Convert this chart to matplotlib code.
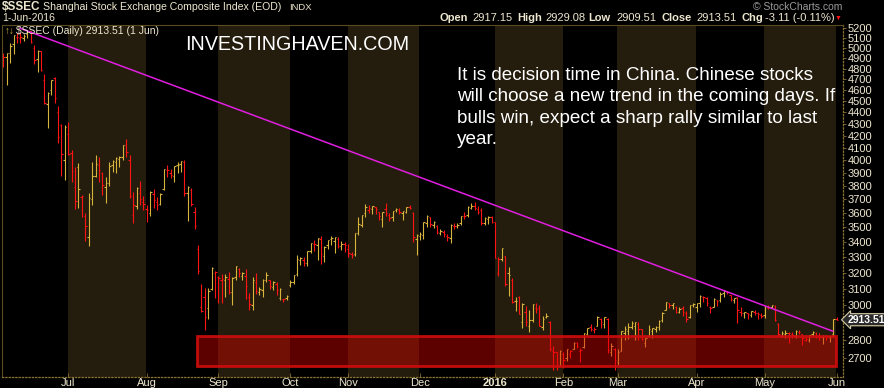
import matplotlib
matplotlib.use('Agg')
import matplotlib.pyplot as plt
import numpy as np
from matplotlib.patches import Rectangle

plt.rcParams['font.family'] = ['Liberation Sans', 'DejaVu Sans']

# trading bars per month: Jun 2015 (from 3 Jun) ... Jun 2016 (1 Jun only)
month_counts = [19, 23, 21, 21, 17, 21, 22, 20, 16, 23, 20, 21, 1]
month_labels = ['', 'Jul', 'Aug', 'Sep', 'Oct', 'Nov', 'Dec', '2016', 'Feb', 'Mar', 'Apr', 'May', 'Jun']

opens = [
    4924, 4912, 4952, 5045, 5114, 5103, 5101, 5143, 5174, 5004, 4890, 4969, 4689, 4471, 4604, 4712, 4399, 4289, 4006,
    4214, 4058, 3793, 3950, 3720, 3580, 3432, 3707, 3880, 3960, 3900, 3790, 3827, 3960, 3990, 4010, 4030, 4120, 4000, 3585, 3650, 3750, 3680,
    3630, 3600, 3740, 3680, 3670, 3780, 3920, 3900, 3880, 3960, 3970, 3990, 3750, 3770, 3610, 3350, 2990, 3050, 2980, 3100, 3200,
    3170, 3150, 3150, 3160, 3080, 3170, 3220, 3180, 3180, 3050, 3000, 3140, 3080, 3090, 3150, 3150, 3110, 3130, 3040, 3039, 3040,
    3120, 3140, 3190, 3280, 3280, 3260, 3340, 3390, 3380, 3420, 3310, 3380, 3420, 3410, 3420, 3370, 3390,
    3350, 3320, 3320, 3460, 3520, 3600, 3620, 3630, 3645, 3610, 3560, 3630, 3590, 3570, 3620, 3625, 3600, 3610, 3645, 3600, 3420,
    3440, 3450, 3530, 3570, 3520, 3510, 3460, 3470, 3440, 3430, 3510, 3510, 3530, 3580, 3590, 3640, 3650, 3630, 3620, 3530, 3560, 3570,
    3536, 3196, 3290, 3309, 3194, 3154, 3023, 3050, 2900, 2960, 2880, 2910, 2980, 2980, 2870, 2930, 2900, 2740, 2730, 2660,
    2720, 2700, 2720, 2750, 2780, 2740, 2760, 2830, 2870, 2855, 2880, 2920, 2890, 2920, 2730, 2750,
    2680, 2740, 2840, 2850, 2870, 2880, 2890, 2860, 2780, 2820, 2850, 2860, 2870, 2910, 2970, 3010, 3000, 2990, 2960, 2980, 2950, 2930, 3000,
    2990, 3010, 3050, 3040, 2990, 2990, 3030, 3030, 3070, 3080, 3060, 3030, 3050, 2960, 2950, 2950, 2940, 2960, 2950, 2940,
    2940, 2985, 2990, 2995, 2890, 2820, 2830, 2840, 2830, 2820, 2845, 2830, 2800, 2800, 2830, 2840, 2820, 2815, 2820, 2815, 2830,
    2917.15,
]
highs = [
    4951, 4947, 5051, 5131, 5147, 5164, 5139, 5178, 5176, 5029, 4985, 4970, 4744, 4577, 4691, 4720, 4456, 4297, 4287,
    4318, 4080, 3944, 3975, 3730, 3600, 3748, 3990, 4043, 4029, 3910, 3872, 3989, 4003, 4029, 4034, 4124, 4170, 4043, 3758, 3790, 3840, 3723,
    3658, 3760, 3778, 3721, 3746, 3930, 3961, 3935, 3955, 3989, 3994, 4003, 3801, 3783, 3645, 3383, 3126, 3101, 3101, 3233, 3208,
    3175, 3190, 3190, 3205, 3170, 3243, 3232, 3205, 3220, 3073, 3173, 3194, 3110, 3158, 3205, 3156, 3144, 3142, 3102, 3039, 3060,
    3150, 3185, 3313, 3298, 3298, 3338, 3391, 3413, 3425, 3441, 3370, 3413, 3441, 3437, 3437, 3409, 3402,
    3384, 3335, 3460, 3575, 3590, 3667, 3660, 3652, 3647, 3611, 3606, 3677, 3604, 3617, 3640, 3635, 3618, 3647, 3660, 3611, 3458,
    3470, 3540, 3588, 3575, 3545, 3520, 3490, 3485, 3455, 3525, 3529, 3530, 3580, 3610, 3651, 3672, 3684, 3650, 3640, 3570, 3580, 3580,
    3538, 3303, 3362, 3309, 3235, 3166, 3046, 3055, 3011, 2996, 2968, 3008, 3011, 3001, 2933, 2952, 2904, 2763, 2735, 2745,
    2730, 2749, 2745, 2786, 2786, 2755, 2837, 2868, 2890, 2869, 2933, 2923, 2929, 2923, 2782, 2755,
    2749, 2849, 2875, 2894, 2904, 2901, 2901, 2862, 2812, 2883, 2868, 2876, 2912, 2960, 3020, 3012, 3012, 2993, 2986, 2997, 2962, 3002, 3014,
    3014, 3058, 3055, 3051, 2994, 3040, 3030, 3080, 3090, 3085, 3060, 3045, 3050, 2990, 2960, 2955, 2966, 2970, 2958, 2955,
    2992, 3000, 3000, 3000, 2895, 2850, 2855, 2842, 2846, 2854, 2857, 2830, 2825, 2827, 2850, 2843, 2835, 2826, 2826, 2822, 2920,
    2929.08,
]
lows = [
    4812, 4647, 4856, 4942, 5049, 5049, 5066, 5103, 5048, 4842, 4767, 4780, 4476, 4264, 4552, 4483, 4140, 3876, 3847,
    4044, 3828, 3629, 3640, 3570, 3410, 3373, 3660, 3866, 3833, 3733, 3677, 3801, 3910, 3903, 3950, 4003, 4029, 3709, 3529, 3633, 3658, 3625,
    3540, 3583, 3640, 3620, 3660, 3767, 3872, 3860, 3828, 3898, 3910, 3729, 3545, 3650, 3490, 3188, 2957, 2852, 2918, 3091, 3044,
    3010, 3010, 3050, 3065, 2998, 3152, 3169, 3152, 3039, 2969, 2969, 3069, 3059, 3049, 3142, 3094, 3090, 3059, 3029, 3015, 3030,
    3110, 3131, 3177, 3250, 3243, 3243, 3324, 3342, 3280, 3254, 3270, 3355, 3380, 3324, 3358, 3346, 3335,
    3300, 3291, 3310, 3447, 3500, 3575, 3599, 3594, 3594, 3551, 3504, 3580, 3546, 3546, 3611, 3594, 3551, 3599, 3628, 3402, 3313,
    3413, 3418, 3504, 3501, 3495, 3455, 3450, 3437, 3410, 3392, 3490, 3495, 3520, 3560, 3570, 3630, 3625, 3595, 3520, 3517, 3525, 3530,
    3295, 3180, 3277, 3115, 3056, 3011, 2967, 2949, 2867, 2875, 2844, 2898, 2955, 2880, 2856, 2923, 2736, 2639, 2639, 2656,
    2648, 2683, 2700, 2749, 2755, 2680, 2755, 2828, 2847, 2837, 2875, 2865, 2865, 2727, 2709, 2639,
    2665, 2736, 2800, 2804, 2859, 2798, 2798, 2798, 2761, 2816, 2808, 2845, 2854, 2902, 2970, 2985, 2977, 2950, 2950, 2936, 2902, 2926, 2990,
    2960, 2990, 3020, 2995, 2950, 2990, 2994, 3020, 3050, 3065, 3025, 3012, 2896, 2935, 2925, 2918, 2930, 2942, 2920, 2925,
    2926, 2975, 2980, 2905, 2820, 2815, 2812, 2780, 2810, 2812, 2830, 2770, 2795, 2785, 2820, 2810, 2800, 2775, 2800, 2785, 2815,
    2909.51,
]
closes = [
    4910, 4947, 5023, 5131, 5113, 5106, 5121, 5166, 5062, 4887, 4967, 4785, 4478, 4576, 4691, 4527, 4193, 4053, 4277,
    4053, 3912, 3687, 3776, 3727, 3507, 3710, 3878, 3970, 3924, 3805, 3823, 3958, 3992, 4017, 4026, 4124, 4070, 3726, 3663, 3789, 3705, 3664,
    3622, 3757, 3695, 3661, 3744, 3929, 3927, 3887, 3955, 3965, 3993, 3749, 3794, 3664, 3508, 3210, 2965, 2927, 3084, 3232, 3206,
    3166, 3160, 3170, 3080, 3168, 3243, 3197, 3200, 3114, 3005, 3152, 3086, 3097, 3156, 3185, 3115, 3142, 3092, 3100, 3038, 3053,
    3143, 3183, 3287, 3293, 3262, 3338, 3391, 3386, 3425, 3320, 3369, 3412, 3429, 3434, 3375, 3387, 3382,
    3325, 3316, 3459, 3522, 3590, 3646, 3640, 3650, 3632, 3580, 3606, 3604, 3568, 3617, 3630, 3610, 3616, 3647, 3635, 3436, 3445,
    3456, 3537, 3584, 3525, 3536, 3470, 3472, 3455, 3434, 3520, 3510, 3516, 3580, 3578, 3642, 3651, 3636, 3612, 3533, 3563, 3573, 3539,
    3296, 3287, 3361, 3125, 3186, 3016, 3022, 2949, 3007, 2900, 2913, 3008, 2976, 2880, 2916, 2938, 2749, 2735, 2655, 2737,
    2688, 2749, 2739, 2781, 2763, 2746, 2836, 2867, 2862, 2860, 2927, 2903, 2928, 2741, 2767, 2688,
    2733, 2849, 2859, 2874, 2897, 2901, 2863, 2804, 2810, 2859, 2864, 2870, 2904, 2955, 3018, 2999, 3009, 2960, 2979, 2957, 2919, 3000, 3004,
    3009, 3053, 3050, 3009, 2985, 3034, 3023, 3066, 3082, 3078, 3034, 3043, 2973, 2953, 2959, 2946, 2964, 2954, 2945, 2938,
    2992, 2991, 2998, 2914, 2833, 2836, 2837, 2835, 2827, 2850, 2843, 2807, 2806, 2826, 2843, 2821, 2815, 2822, 2821, 2822.5, 2917,
    2913.51,
]

y_ticks = list(range(2700, 5300, 100))

# support zone and trendline (bar index, price)
zone_bars = (56.7, 243.8)
zone_prices = (2657, 2823)
trend_bars = [4.9, 242.9]
trend_prices = [5200, 2848]

note = ("It is decision time in China. Chinese stocks\n"
        "will choose a new trend in the coming days. If\n"
        "bulls win, expect a sharp rally similar to last\n"
        "year.")

GOLD = '#d6b43e'
RED = '#ff1414'
CREAM = '#eee7cf'
AXCOL = '#8a7232'
BAND = '#241c0c'

W, H = 884, 388
fig = plt.figure(figsize=(W / 100, H / 100), dpi=100, facecolor='black')
ax = fig.add_axes([2 / W, 11 / H, 841 / W, 352 / H], facecolor='black')


def px(x, y):
    return x / W, 1 - y / H


x = np.arange(len(closes))
o = np.array(opens, dtype=float)
hi = np.array(highs, dtype=float)
lo = np.array(lows, dtype=float)
c = np.array(closes, dtype=float)
prev = np.concatenate([[o[0]], c[:-1]])
cols = [GOLD if cc >= pp else RED for cc, pp in zip(c, prev)]

starts = np.concatenate([[0], np.cumsum(month_counts)[:-1]])
ends = np.concatenate([starts[1:], [len(closes)]])
for k in range(1, len(month_counts), 2):
    ax.axvspan(starts[k] - 0.15, ends[k] - 0.15, color=BAND, lw=0, zorder=0)

ax.vlines(x, lo, hi, colors=cols, lw=0.8, zorder=2)
ax.hlines(o, x - 0.42, x, colors=cols, lw=0.8, zorder=2)
ax.hlines(c, x, x + 0.42, colors=cols, lw=0.8, zorder=2)

ax.add_patch(Rectangle((zone_bars[0], zone_prices[0]), zone_bars[1] - zone_bars[0],
                       zone_prices[1] - zone_prices[0],
                       facecolor=(0.88, 0.0, 0.0, 0.42), edgecolor=(0.82, 0.05, 0.05, 0.9),
                       lw=2.0, zorder=3))
ax.plot(trend_bars, trend_prices, color='#e01ee0', lw=1.1, zorder=4)

# the last-price tag covers the nearest price label
tick_labels = ['' if abs(v - closes[-1]) < 60 else str(v) for v in y_ticks]

ax.set_yscale('log')
ax.set_xlim(-0.4, 245.9)
ax.set_ylim(2600, 5234)
ax.yaxis.tick_right()
ax.set_yticks(y_ticks, labels=tick_labels)
ax.set_yticks([], minor=True)
ax.set_xticks(starts[1:], labels=month_labels[1:])
for lbl in ax.get_xticklabels():
    if lbl.get_text() == '2016':
        lbl.set_fontweight('bold')
ax.tick_params(axis='y', colors=AXCOL, labelcolor=CREAM, labelsize=8, length=2,
               width=0.6, pad=1.5)
ax.tick_params(axis='x', colors=AXCOL, labelcolor=CREAM, labelsize=8, length=3,
               width=0.6, pad=0.5, direction='in')
for side in ['left', 'top']:
    ax.spines[side].set_color('#5b4a22')
    ax.spines[side].set_linewidth(0.8)
for side in ['right', 'bottom']:
    ax.spines[side].set_color(AXCOL)
    ax.spines[side].set_linestyle(':')
    ax.spines[side].set_linewidth(0.9)

ax.annotate(f'{closes[-1]:.2f}', xy=(1.0, closes[-1]), xycoords=('axes fraction', 'data'),
            xytext=(3.5, 0), textcoords='offset points', ha='left', va='center',
            fontsize=7.5, fontweight='bold', color='white', annotation_clip=False,
            bbox=dict(boxstyle='larrow,pad=0.1', fc='#2b2b2b', ec='#d8cfa8', lw=0.8))

# header
fig.text(*px(2, 7), '$SSEC', color=CREAM, fontsize=8.5, fontweight='bold', va='center')
fig.text(*px(43, 7), 'Shanghai Stock Exchange Composite Index (EOD)', color=CREAM,
         fontsize=7.6, va='center')
fig.text(*px(289, 7), 'INDX', color=CREAM, fontsize=6.8, va='center')
fig.text(*px(2, 18), '1-Jun-2016', color=CREAM, fontsize=7.5, va='center')
fig.text(*px(842, 6.5), '\u00a9 StockCharts.com', color='#9a9a9a', fontsize=7.5,
         va='center', ha='right')

ohlc_items = [(440, 'Open', True), (472, '2917.15', False), (517, 'High', True),
              (545, '2929.08', False), (588, 'Low', True), (616, '2909.51', False),
              (661, 'Close', True), (696, '2913.51', False), (741, 'Chg', True),
              (765, '-3.11 (-0.11%)', False)]
for xp, txt, bold in ohlc_items:
    fig.text(*px(xp, 18), txt, color=CREAM, fontsize=8, va='center',
             fontweight='bold' if bold else 'normal')
fig.text(*px(835, 18), '\u25bc', color=RED, fontsize=5, va='center')

fig.text(*px(5, 31), '\u2191\u2193', color=GOLD, fontsize=7, va='center')
fig.text(*px(16, 31), '$SSEC (Daily) 2913.51 (1 Jun)', color=CREAM, fontsize=7.5,
         va='center')

fig.text(*px(185, 45), 'INVESTINGHAVEN.COM', color='white', fontsize=14.2, va='center')
fig.text(*px(457, 67), note, color='white', fontsize=13.6, va='top', linespacing=1.33)

fig.savefig('out.png', dpi=100, facecolor='black')
